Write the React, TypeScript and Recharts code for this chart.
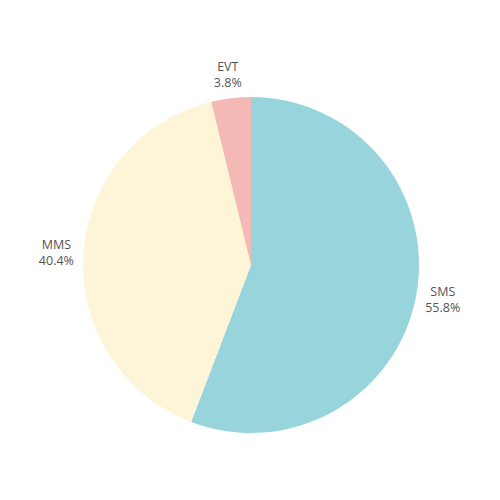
import React from 'react';
import { PieChart, Pie, Cell } from 'recharts';

const names = ['SMS', 'MMS', 'EVT'];
const values = [55.8, 40.4, 3.8];
const colors = ['#98d4db', '#fef5d9', '#f4b9b4'];

const data = names.map((name, i) => ({ name, value: values[i] }));

const RAD = Math.PI / 180;

const renderLabel = (props: any) => {
  const { cx, cy, midAngle, outerRadius, name, value } = props;
  const r = outerRadius + 8;
  const ux = Math.cos(-midAngle * RAD);
  const uy = Math.sin(-midAngle * RAD);
  const px = cx + r * ux;
  const py = cy + r * uy;
  // text block ~38 wide, ~30 tall; shift so the block sits outside the pie
  const bx = px + ux * 19;
  const by = py + uy * 15;
  const lh = 16;
  const style = { fontFamily: '"Open Sans", sans-serif', fontSize: 12.5, fontWeight: 400 };
  return (
    <g>
      <text x={bx} y={by - lh / 2 + 4} textAnchor="middle" fill="#555" style={style}>
        {name}
      </text>
      <text x={bx} y={by + lh / 2 + 4} textAnchor="middle" fill="#555" style={style}>
        {value.toFixed(1)}%
      </text>
    </g>
  );
};

export default function App() {
  return (
    <div style={{ position: 'absolute', left: 0, top: 0, width: 500, height: 500, background: '#fff' }}>
      <PieChart width={500} height={500} margin={{ top: 0, right: 0, bottom: 0, left: 0 }}>
        <Pie
          data={data}
          dataKey="value"
          nameKey="name"
          cx={251}
          cy={265}
          outerRadius={168}
          startAngle={90}
          endAngle={-270}
          stroke="none"
          label={renderLabel}
          labelLine={false}
          isAnimationActive={false}
        >
          {data.map((d, i) => (
            <Cell key={d.name} fill={colors[i]} />
          ))}
        </Pie>
      </PieChart>
    </div>
  );
}
